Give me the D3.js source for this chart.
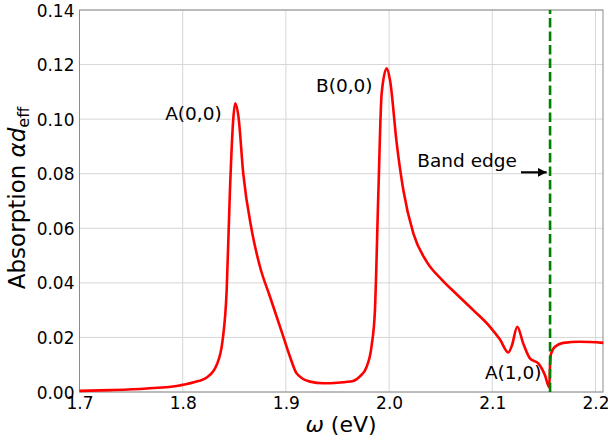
<!DOCTYPE html>
<html>
<head>
<meta charset="utf-8">
<script src="https://d3js.org/d3.v7.min.js"></script>
<style>
	html, body { margin: 0; padding: 0; background: #fff; }
	svg { display: block; font-family: "DejaVu Sans", sans-serif; }
</style>
</head>
<body>
<div id="chart"></div>
<script>
// photon energy omega (eV)
const omega_values = [
	1.700, 1.730, 1.765, 1.797, 1.815, 1.823, 1.833, 1.8387, 1.8426, 1.8458,
	1.849, 1.8509, 1.854, 1.8587, 1.8669, 1.8749, 1.8846, 1.8975, 1.904, 1.9105,
	1.9234, 1.9363, 1.950, 1.965, 1.972, 1.978, 1.9831, 1.9863, 1.9896, 1.9928,
	1.9977, 2.0009, 2.0074, 2.0138, 2.0235, 2.0364, 2.0510, 2.0650, 2.0816,
	2.0978, 2.1075, 2.1155, 2.119, 2.1242, 2.130, 2.1365, 2.1446, 2.151, 2.1552,
	2.1560, 2.1569, 2.1608, 2.1688, 2.185, 2.2076
];

// absorption alpha*d_eff at each omega
const absorption_values = [
	0.0004, 0.0007, 0.0013, 0.0024, 0.0040, 0.0052, 0.0100, 0.0190, 0.0370, 0.0740,
	0.1000, 0.1058, 0.1010, 0.0800, 0.0593, 0.0459, 0.0349, 0.0203, 0.0129, 0.0068,
	0.0038, 0.0032, 0.0034, 0.0040, 0.0058, 0.0090, 0.0170, 0.0300, 0.0728, 0.1094,
	0.1186, 0.1143, 0.0911, 0.0740, 0.0581, 0.0478, 0.0412, 0.0360, 0.0300,
	0.0239, 0.0192, 0.0145, 0.0170, 0.0239, 0.0178, 0.0123, 0.0105, 0.0062, 0.0017,
	0.0100, 0.0140, 0.0166, 0.0180, 0.0184, 0.0180
];

const x_ticks = [1.7, 1.8, 1.9, 2.0, 2.1, 2.2];
const y_ticks = [0, 0.02, 0.04, 0.06, 0.08, 0.10, 0.12, 0.14];

const band_edge = 2.156;

// peak labels: [text, omega, absorption]
const peak_labels = [
	["A(0,0)", 1.783, 0.0996],
	["B(0,0)", 1.9292, 0.1099],
	["A(1,0)", 2.0929, 0.0048]
];
const band_edge_label = ["Band edge", 2.0273, 0.0824];
const band_edge_arrow = [[2.1278, 0.0805], [2.1527, 0.0805]];

const width = 608, height = 443;
const margin = { top: 10, right: 5, bottom: 51, left: 79.5 };

const svg = d3.select("#chart")
	.append("svg")
	.attr("width", width)
	.attr("height", height);

const x = d3.scaleLinear()
	.domain([1.7, 2.2073])
	.range([margin.left, width - margin.right]);

const y = d3.scaleLinear()
	.domain([0, 0.14])
	.range([height - margin.bottom, margin.top]);

/**
 * grid lines
 */
svg.append("g")
	.selectAll("line.gx")
	.data(x_ticks)
	.enter()
	.append("line")
	.attr("x1", d => x(d)).attr("x2", d => x(d))
	.attr("y1", y(0)).attr("y2", y(0.14))
	.attr("stroke", "#d6d6d6")
	.attr("stroke-width", 1);

svg.append("g")
	.selectAll("line.gy")
	.data(y_ticks)
	.enter()
	.append("line")
	.attr("x1", x(1.7)).attr("x2", width - margin.right)
	.attr("y1", d => y(d)).attr("y2", d => y(d))
	.attr("stroke", "#d6d6d6")
	.attr("stroke-width", 1);

/**
 * axes (no tick marks, labels only)
 */
const x_axis = svg.append("g")
	.attr("transform", `translate(0,${y(0)})`)
	.call(d3.axisBottom(x).tickValues(x_ticks).tickFormat(d3.format(".1f")).tickSize(0).tickPadding(3));

const y_axis = svg.append("g")
	.attr("transform", `translate(${margin.left},0)`)
	.call(d3.axisLeft(y).tickValues(y_ticks).tickFormat(d3.format(".2f")).tickSize(0).tickPadding(5));

[x_axis, y_axis].forEach(ax => {
	ax.select(".domain").remove();
	ax.selectAll("text")
		.style("font-family", "DejaVu Sans")
		.style("font-size", "17px")
		.attr("fill", "#000");
});
x_axis.selectAll("text").attr("dy", "0.85em");
y_axis.selectAll("text").attr("dy", "0.36em");

/**
 * frame
 */
svg.append("rect")
	.attr("x", x(1.7))
	.attr("y", y(0.14))
	.attr("width", width - margin.right - x(1.7))
	.attr("height", y(0) - y(0.14))
	.attr("fill", "none")
	.attr("stroke", "#8c8c8c")
	.attr("stroke-width", 1);

/**
 * absorption curve
 */
const points = omega_values.map((w, i) => [w, absorption_values[i]]);

const line = d3.line()
	.x(d => x(d[0]))
	.y(d => y(d[1]))
	.curve(d3.curveMonotoneX);

svg.append("path")
	.datum(points)
	.attr("d", line)
	.attr("fill", "none")
	.attr("stroke", "#ff0000")
	.attr("stroke-width", 2.6)
	.attr("stroke-linejoin", "round");

// band edge marker
svg.append("line")
	.attr("x1", x(band_edge)).attr("x2", x(band_edge))
	.attr("y1", y(0)).attr("y2", y(0.14))
	.attr("stroke", "#008000")
	.attr("stroke-width", 2.6)
	.attr("stroke-dasharray", "9.5,4");

/**
 * annotations
 */
svg.append("g")
	.selectAll("text")
	.data(peak_labels.concat([band_edge_label]))
	.enter()
	.append("text")
	.attr("x", d => x(d[1]))
	.attr("y", d => y(d[2]))
	.style("font-size", "18.5px")
	.text(d => d[0]);

svg.append("defs")
	.append("marker")
	.attr("id", "arrow_head")
	.attr("viewBox", "0 0 10 10")
	.attr("refX", 10).attr("refY", 5)
	.attr("markerWidth", 4).attr("markerHeight", 4)
	.attr("orient", "auto")
	.attr("markerUnits", "strokeWidth")
	.append("path")
	.attr("d", "M0,0 L10,5 L0,10 z")
	.attr("fill", "#000");

svg.append("line")
	.attr("x1", x(band_edge_arrow[0][0])).attr("y1", y(band_edge_arrow[0][1]))
	.attr("x2", x(band_edge_arrow[1][0])).attr("y2", y(band_edge_arrow[1][1]))
	.attr("stroke", "#000")
	.attr("stroke-width", 2.2)
	.attr("marker-end", "url(#arrow_head)");

/**
 * axis titles
 */
const x_title = svg.append("text")
	.attr("x", 341)
	.attr("y", 432)
	.attr("text-anchor", "middle")
	.style("font-size", "22px");
x_title.append("tspan").style("font-style", "italic").text("ω");
x_title.append("tspan").text(" (eV)");

const y_title = svg.append("text")
	.attr("transform", "translate(25,198) rotate(-90)")
	.attr("text-anchor", "middle")
	.style("font-size", "23px");
y_title.append("tspan").text("Absorption ");
y_title.append("tspan").style("font-style", "italic").text("αd");
y_title.append("tspan").attr("dy", "0.25em").style("font-size", "16px").text("eff");
</script>
</body>
</html>
